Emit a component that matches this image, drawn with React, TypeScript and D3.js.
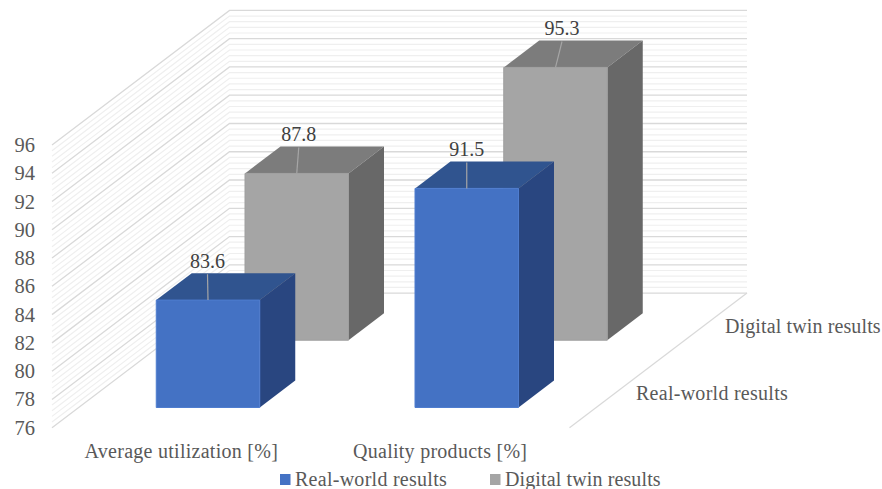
import React from "react";
import * as d3 from "d3";

const categories = ["Average utilization [%]", "Quality products [%]"];
const seriesNames = ["Real-world results", "Digital twin results"];
const realWorld = [83.6, 91.5];
const digitalTwin = [87.8, 95.3];
const yTicks = [76, 78, 80, 82, 84, 86, 88, 90, 92, 94, 96];
// Horizontal nudges of the data labels, which sit off the bar centres.
const realWorldLabelShift = [-0.5, 0];
const digitalTwinLabelShift = [2, 6.5];
const palettes = [
  { front: "#4472C4", top: "#30548F", side: "#294680", edge: "#4F7DCF" },
  { front: "#A5A5A5", top: "#7C7C7C", side: "#686868", edge: "#9F9F9F" },
];

const FONT = "'Liberation Serif', serif";
const TEXT = "#595959";

// Oblique projection: x runs along the front edge, depth runs into the chart.
const originX = 52;
const originY = 427.7;
const depthDX = 177.5;
const depthDY = -134.6;
const plotWidth = 517.5;

const xBand = d3.scaleBand<string>().domain(categories).range([0, plotWidth]).paddingInner(0.6).paddingOuter(0.3);
const zBand = d3.scaleBand<string>().domain(seriesNames).range([0, 1]).paddingInner(0.6).paddingOuter(0.3);
const yScale = d3.scaleLinear().domain([76, 96]).range([0, 282.7]);

function project(x: number, value: number, z: number): [number, number] {
  return [originX + x + z * depthDX, originY - yScale(value) + z * depthDY];
}
const poly = (pts: [number, number][]) => pts.map((p) => p.join(",")).join(" ");

const minorValues = d3.range(0, 51).map((i) => 76 + i * 0.4);

function Bar({ cat, series, value, color, shift }: { cat: string; series: string; value: number; color: (typeof palettes)[number]; shift: number }) {
  const x0 = xBand(cat)!;
  const x1 = x0 + xBand.bandwidth();
  const z0 = zBand(series)!;
  const z1 = z0 + zBand.bandwidth();
  const base = 76;
  const [fx, fy] = project((x0 + x1) / 2, value, z0);
  const [, ty] = project((x0 + x1) / 2, value, z1);
  const labelX = fx + shift;
  return (
    <g>
      <polygon points={poly([project(x0, value, z0), project(x1, value, z0), project(x1, value, z1), project(x0, value, z1)])} fill={color.top} />
      <polygon points={poly([project(x1, base, z0), project(x1, value, z0), project(x1, value, z1), project(x1, base, z1)])} fill={color.side} />
      <polygon
        points={poly([project(x0, base, z0), project(x1, base, z0), project(x1, value, z0), project(x0, value, z0)])}
        fill={color.front}
        stroke={color.edge}
        strokeWidth={1}
      />
      <line x1={fx} y1={fy} x2={labelX} y2={ty + 1} stroke="#A6A6A6" strokeWidth={1.2} />
      <text x={labelX} y={ty - 5} textAnchor="middle" fontFamily={FONT} fontSize={20} fill="#404040">
        {value}
      </text>
    </g>
  );
}

export default function App() {
  const rows = [realWorld, digitalTwin];
  const shifts = [realWorldLabelShift, digitalTwinLabelShift];
  const labelStyle = { fontFamily: FONT, fontSize: 20, fill: TEXT, letterSpacing: 0.27 };
  const tightStyle = { ...labelStyle, letterSpacing: 0.12 };
  return (
    <svg width={882} height={489} style={{ position: "absolute", left: 0, top: 0, background: "#fff" }}>
      {/* minor and major gridlines on the left and back walls */}
      {minorValues.map((v, i) => {
        const major = i % 5 === 0;
        return (
          <polyline
            key={i}
            points={poly([project(0, v, 0), project(0, v, 1), project(plotWidth, v, 1)])}
            fill="none"
            stroke={major ? "#D9D9D9" : "#EFEFEF"}
            strokeWidth={major ? 1.3 : 1.2}
          />
        );
      })}
      {/* right-hand edge of the floor */}
      <line
        x1={project(plotWidth, 76, 0)[0]}
        y1={project(plotWidth, 76, 0)[1]}
        x2={project(plotWidth, 76, 1)[0]}
        y2={project(plotWidth, 76, 1)[1]}
        stroke="#D9D9D9"
        strokeWidth={1.2}
      />

      {[1, 0].map((s) =>
        categories.map((c, i) => (
          <Bar key={`${s}-${c}`} cat={c} series={seriesNames[s]} value={rows[s][i]} color={palettes[s]} shift={shifts[s][i]} />
        ))
      )}

      {yTicks.map((t) => (
        <text key={t} x={35} y={project(0, t, 0)[1] + 7} textAnchor="end" fontFamily={FONT} fontSize={20.5} fill={TEXT}>
          {t}
        </text>
      ))}

      {categories.map((c) => (
        <text key={c} x={originX + xBand(c)! + xBand.bandwidth() / 2} y={458} textAnchor="middle" {...labelStyle}>
          {c}
        </text>
      ))}

      <text x={636} y={400} {...labelStyle}>{seriesNames[0]}</text>
      <text x={725} y={333} {...tightStyle}>{seriesNames[1]}</text>

      <rect x={280} y={474} width={10.5} height={11} fill={palettes[0].front} />
      <text x={295} y={485.5} {...labelStyle}>{seriesNames[0]}</text>
      <rect x={490} y={474} width={10.5} height={11} fill={palettes[1].front} />
      <text x={505} y={485.5} {...tightStyle}>{seriesNames[1]}</text>
    </svg>
  );
}
